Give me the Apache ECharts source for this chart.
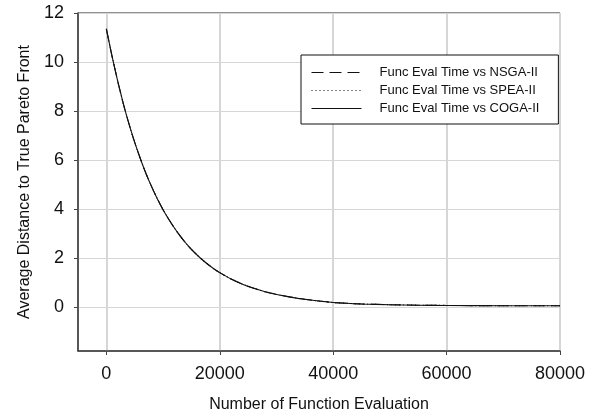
<!DOCTYPE html>
<html>
<head>
<meta charset="utf-8">
<script src="https://cdn.jsdelivr.net/npm/echarts@6/dist/echarts.min.js"></script>
<style>
html,body{margin:0;padding:0;background:#fff;}
#chart{width:596px;height:418px;}
</style>
</head>
<body>
<div id="chart"></div>
<script>
// Data
const evaluations = [0, 1000, 2000, 3000, 4000, 5000, 6000, 7000, 8000, 9000, 10000, 11000, 12000, 13000, 14000, 15000, 16000, 17000, 18000, 19000, 20000, 22000, 24000, 26000, 28000, 30000, 32500, 35000, 37500, 40000, 45000, 50000, 55000, 60000, 70000, 80000];
const nsga2 = [11.35, 10.24, 9.22, 8.29, 7.46, 6.72, 6.05, 5.44, 4.90, 4.41, 3.97, 3.58, 3.22, 2.90, 2.61, 2.35, 2.12, 1.91, 1.72, 1.55, 1.40, 1.14, 0.93, 0.76, 0.62, 0.51, 0.40, 0.31, 0.24, 0.18, 0.12, 0.09, 0.07, 0.06, 0.05, 0.05];
const spea2 = [11.35, 10.24, 9.22, 8.29, 7.46, 6.72, 6.05, 5.44, 4.90, 4.41, 3.97, 3.58, 3.22, 2.90, 2.61, 2.35, 2.12, 1.91, 1.72, 1.55, 1.40, 1.14, 0.93, 0.76, 0.62, 0.51, 0.40, 0.31, 0.24, 0.18, 0.12, 0.09, 0.07, 0.06, 0.05, 0.05];
const coga2 = [11.35, 10.24, 9.22, 8.29, 7.46, 6.72, 6.05, 5.44, 4.90, 4.41, 3.97, 3.58, 3.22, 2.90, 2.61, 2.35, 2.12, 1.91, 1.72, 1.55, 1.40, 1.14, 0.93, 0.76, 0.62, 0.51, 0.40, 0.31, 0.24, 0.18, 0.12, 0.09, 0.07, 0.06, 0.05, 0.05];
const seriesNames = ['Func Eval Time vs NSGA-II', 'Func Eval Time vs SPEA-II', 'Func Eval Time vs COGA-II'];
const xTicks = [0, 20000, 40000, 60000, 80000];
const yTicks = [0, 2, 4, 6, 8, 10, 12];
const xTitle = 'Number of Function Evaluation';
const yTitle = 'Average Distance to True Pareto Front';

const pair = (ys) => evaluations.map((x, i) => [x, ys[i]]);
const FONT = 'Liberation Sans, Arial, sans-serif';

const chart = echarts.init(document.getElementById('chart'), null, {renderer: 'canvas'});
const option = {
  animation: false,
  backgroundColor: '#fff',
  grid: {left: 78, right: 36, top: 13, bottom: 67, show: true, borderColor: '#222', borderWidth: 1, backgroundColor: 'transparent'},
  xAxis: {
    type: 'value', min: -5000, max: 80000, splitNumber: 4,
    name: xTitle, nameLocation: 'middle', nameGap: 46,
    nameTextStyle: {fontFamily: FONT, fontSize: 16, color: '#111'},
    axisLine: {show: true, onZero: false, lineStyle: {color: '#444', width: 1.5}},
    axisTick: {show: true, inside: false, length: 4, customValues: xTicks, lineStyle: {color: '#444', width: 1}},
    axisLabel: {customValues: xTicks, fontFamily: FONT, fontSize: 18, color: '#111', margin: 14, formatter: (v) => String(v)},
    splitLine: {show: true, lineStyle: {color: '#d6d6d6', width: 2}}
  },
  yAxis: {
    type: 'value', min: -1.8, max: 12, splitNumber: 7,
    name: yTitle, nameLocation: 'middle', nameGap: 44,
    nameTextStyle: {fontFamily: FONT, fontSize: 16, color: '#111'},
    axisLine: {show: true, onZero: false, lineStyle: {color: '#444', width: 1.5}},
    axisTick: {show: true, inside: false, length: 4, customValues: yTicks, lineStyle: {color: '#444', width: 1}},
    axisLabel: {customValues: yTicks, fontFamily: FONT, fontSize: 18, color: '#111', margin: 14, formatter: (v) => String(v)},
    splitLine: {show: true, lineStyle: {color: '#d6d6d6', width: 1}}
  },
  legend: {
    orient: 'vertical', left: 301, top: 55,
    padding: [11, 19, 9, 10], itemGap: 5, itemWidth: 50, itemHeight: 12,
    backgroundColor: '#fff', borderColor: '#111', borderWidth: 1,
    itemStyle: {opacity: 0},
    lineStyle: {width: 1},
    textStyle: {fontFamily: FONT, fontSize: 13, color: '#111', padding: [0, 0, 0, 13]},
    data: seriesNames
  },
  series: [
    {name: seriesNames[0], type: 'line', data: pair(nsga2), symbol: 'none', smooth: 0.2, lineStyle: {color: '#111', width: 1.1, type: [12, 6]}, itemStyle: {color: '#111'}},
    {name: seriesNames[1], type: 'line', data: pair(spea2), symbol: 'none', smooth: 0.2, lineStyle: {color: '#111', width: 1.1, type: [1, 3]}, itemStyle: {color: '#111'}},
    {name: seriesNames[2], type: 'line', data: pair(coga2), symbol: 'none', smooth: 0.2, lineStyle: {color: '#111', width: 1.1, type: 'solid'}, itemStyle: {color: '#111'}}
  ]
};
chart.setOption(option);
</script>
</body>
</html>
